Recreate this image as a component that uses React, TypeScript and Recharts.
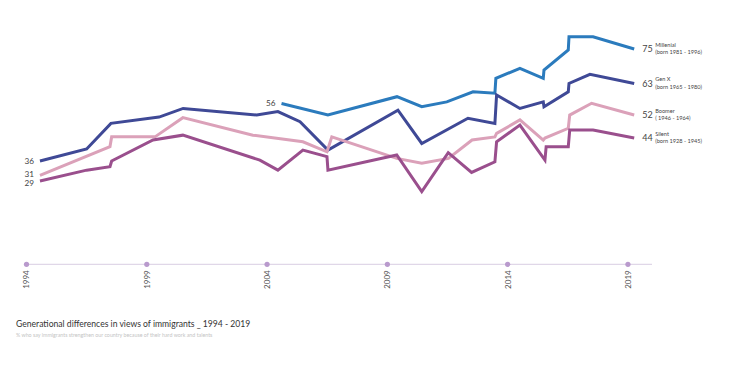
import { LineChart, Line, XAxis, YAxis } from "recharts";

const yearTicks = [1994, 1999, 2004, 2009, 2014, 2019];

const millennialYears = [2004.6, 2006.53, 2009.4, 2010.43, 2011.47, 2012.56, 2013.47, 2013.51, 2014.51, 2015.48, 2015.51, 2016.52, 2016.55, 2017.55, 2019.26];
const millennialValues = [56, 52, 58.4, 54.9, 56.6, 60.1, 59.6, 64.8, 68.3, 64.8, 67.7, 74.7, 79.3, 79.3, 75];

const genXYears = [1994.56, 1996.5, 1997.51, 1999.51, 2000.51, 2003.57, 2004.45, 2005.37, 2006.53, 2009.44, 2010.43, 2012.35, 2013.47, 2013.54, 2014.51, 2015.48, 2015.51, 2016.52, 2016.55, 2017.42, 2019.26];
const genXValues = [36, 40.2, 49.1, 51.3, 54.3, 52, 53.2, 49.7, 39.8, 53.7, 42.1, 50.9, 49.1, 59, 54.3, 56.6, 54.9, 60.1, 63, 66.2, 63];

const boomerYears = [1994.56, 1997.47, 1997.54, 1999.34, 2000.5, 2003.41, 2005.49, 2006.49, 2006.69, 2009.39, 2010.43, 2011.54, 2012.52, 2013.47, 2013.54, 2014.51, 2015.48, 2015.55, 2016.52, 2016.58, 2017.49, 2019.26];
const boomerValues = [31, 41, 44.4, 44.4, 51.1, 45, 42.7, 39.2, 44.4, 36.9, 35.2, 36.9, 43.3, 44.4, 45.6, 50.3, 43.3, 44, 47.4, 52, 56.1, 52];

const silentYears = [1994.56, 1996.5, 1997.47, 1997.54, 1999.26, 2000.5, 2003.7, 2004.45, 2005.49, 2006.49, 2006.53, 2009.39, 2010.43, 2011.53, 2012.5, 2013.47, 2013.54, 2014.51, 2015.55, 2015.6, 2016.52, 2016.58, 2017.55, 2019.26];
const silentValues = [29, 32.8, 34, 36, 43.3, 45, 36.3, 32.8, 39.8, 37.5, 32.8, 38.1, 25.3, 38.9, 32, 35.7, 42.7, 48.5, 36.3, 41, 41, 46.8, 46.8, 44];

const toPoints = (years: number[], values: number[]) =>
  years.map((year, i) => ({ year, value: values[i] }));

const series = [
  { key: "millennial", name: "Millenial", sub: "(born 1981 - 1996)", color: "#2b7bbd", nudge: 0, data: toPoints(millennialYears, millennialValues) },
  { key: "genx", name: "Gen X", sub: "(born 1965 - 1980)", color: "#3f4996", nudge: 0, data: toPoints(genXYears, genXValues) },
  { key: "boomer", name: "Boomer", sub: "( 1946 - 1964)", color: "#dba1b9", nudge: -1.5, data: toPoints(boomerYears, boomerValues) },
  { key: "silent", name: "Silent", sub: "(born 1928 - 1945)", color: "#9a4f8d", nudge: 2, data: toPoints(silentYears, silentValues) },
];

const FONT = "Lato, 'Open Sans', sans-serif";

function makeLabel(name: string, sub: string, count: number, nudge: number) {
  return (props: any) => {
    const { x, y, index, value } = props;
    if (index === 0) {
      return (
        <text x={x - 6} y={y + nudge} dy={2.8} textAnchor="end" fontSize={8.2} fill="#444" fontFamily={FONT}>
          {Math.round(value)}
        </text>
      );
    }
    if (index === count - 1) {
      return (
        <g>
          <text x={x + 8} y={y} dy={3.2} fontSize={9} fill="#444" fontFamily={FONT}>
            {Math.round(value)}
          </text>
          <text x={x + 21} y={y} dy={-2.5} fontSize={5.6} fill="#444" fontFamily={FONT}>
            {name}
          </text>
          <text x={x + 21} y={y} dy={5.2} fontSize={5.6} fill="#444" fontFamily={FONT}>
            {sub}
          </text>
        </g>
      );
    }
    return <g />;
  };
}

function YearTick(props: any) {
  const { x, y, payload } = props;
  return (
    <g>
      <circle cx={x} cy={y} r={2.6} fill="#b99acd" />
      <text
        x={x}
        y={y + 6}
        transform={`rotate(-90, ${x}, ${y + 6})`}
        textAnchor="end"
        dy={3}
        fontSize={8}
        fill="#555"
        fontFamily={FONT}
      >
        {payload.value}
      </text>
    </g>
  );
}

export default function App() {
  return (
    <div style={{ position: "absolute", left: 0, top: 0, width: 730, height: 386, background: "#fff" }}>
      <LineChart width={730} height={386} margin={{ top: 34.7, right: 78, bottom: 81.7, left: 26.5 }}>
        <XAxis
          type="number"
          dataKey="year"
          domain={[1994, 2020]}
          ticks={yearTicks}
          height={40}
          tickSize={0}
          tickMargin={0}
          tickLine={false}
          axisLine={{ stroke: "#e0d7e8", strokeWidth: 1.2 }}
          tick={<YearTick />}
          allowDataOverflow
        />
        <YAxis hide domain={[0, 80]} />
        {series.map((s) => (
          <Line
            key={s.key}
            data={s.data}
            dataKey="value"
            type="linear"
            stroke={s.color}
            strokeWidth={3}
            dot={false}
            activeDot={false}
            isAnimationActive={false}
            label={makeLabel(s.name, s.sub, s.data.length, s.nudge)}
          />
        ))}
      </LineChart>
      <div
        style={{
          position: "absolute",
          left: 16,
          top: 319,
          fontFamily: FONT,
          fontSize: 8.6,
          lineHeight: "10px",
          color: "#333",
          whiteSpace: "nowrap",
        }}
      >
        Generational differences in views of immigrants _ 1994 - 2019
      </div>
      <div
        style={{
          position: "absolute",
          left: 16,
          top: 332,
          fontFamily: FONT,
          fontSize: 5.3,
          lineHeight: "6px",
          color: "#c4c4c4",
          whiteSpace: "nowrap",
        }}
      >
        % who say immigrants strengthen our country because of their hard work and talents
      </div>
    </div>
  );
}
